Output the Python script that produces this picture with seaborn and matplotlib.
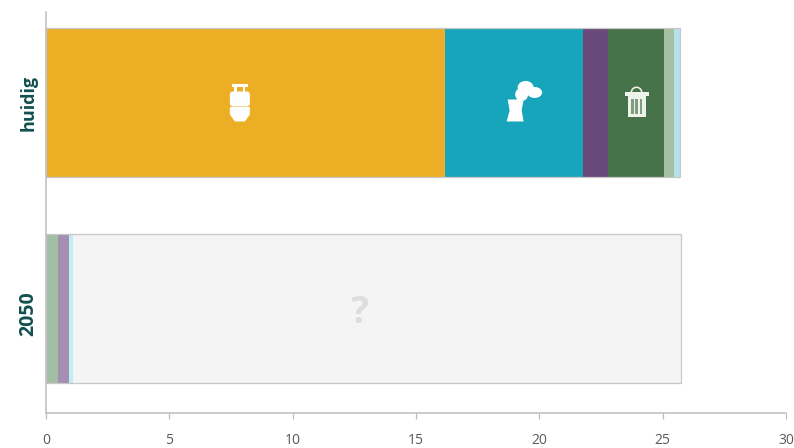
import numpy as np
import matplotlib
matplotlib.use('Agg')
import matplotlib.pyplot as plt
import seaborn as sns
from matplotlib.patches import Circle, Ellipse, FancyBboxPatch, Polygon, Rectangle, Wedge
from matplotlib.transforms import Affine2D

categories = ['huidig', '2050']
huidig_values = [16.17, 5.6, 1.01, 2.27, 0.41, 0.24]
huidig_colors = ['#EBAE25', '#17A5BC', '#69487A', '#47734B', '#A5BFA0', '#B4E3EA']
future_values = [0.5, 0.45, 0.14, 24.66]
future_colors = ['#A3BFA3', '#A58FB0', '#BDF0F4', '#F4F4F4']
x_ticks = [0, 5, 10, 15, 20, 25, 30]

sns.set_style('white')
plt.rcParams['font.family'] = ['Open Sans', 'DejaVu Sans']

fig = plt.figure(figsize=(7.94, 4.48), dpi=100)
ax = fig.add_axes([46 / 794, 1 - 413 / 448, 740 / 794, 401 / 448])


# stacked bars: longest cumulative bar first, shorter ones painted on top
def stacked(cat, values, colors):
    totals = np.cumsum(values)
    for i in range(len(values) - 1, -1, -1):
        sns.barplot(x=[totals[i]], y=[cat], order=categories, color=colors[i], saturation=1,
                    width=0.725, linewidth=0, ax=ax)
    # thin outline round the whole bar
    sns.barplot(x=[totals[-1]], y=[cat], order=categories, fill=False, edgecolor='#C8C8C8',
                width=0.725, linewidth=0.9, ax=ax)


stacked('huidig', huidig_values, huidig_colors)
stacked('2050', future_values, future_colors)

ax.set_xlim(0, 30)
ax.set_ylim(1.51, -0.44)
ax.set_xticks(x_ticks)
ax.set_yticks([])
ax.set_xlabel('')
ax.set_ylabel('')
sns.despine(ax=ax)
for s in ['left', 'bottom']:
    ax.spines[s].set_color('#BDBDBD')
    ax.spines[s].set_linewidth(1.1)
ax.tick_params(axis='x', length=4, width=0.9, color='#BDBDBD', pad=10.5, labelsize=10, labelcolor='#595959', bottom=True)

# category labels sit a bit off the bar centres in the original
ax.text(-0.72, 0.0, categories[0], rotation=90, ha='center', va='center', fontsize=13,
        fontweight='bold', color='#12504F', clip_on=False)
ax.text(-0.72, 1.025, categories[1], rotation=90, ha='center', va='center', fontsize=14,
        fontweight='bold', color='#12504F', clip_on=False)


# icons are drawn in pixels round an anchor given in data units
def anchor(x, y):
    px, py = ax.transData.transform((x, y))
    return Affine2D().scale(1, -1).translate(px, py)


def bottle(x, y):
    t = anchor(x, y)
    shapes = [
        Rectangle((-8, -18), 16, 2.5),
        Rectangle((-5.5, -16), 2.5, 7),
        Rectangle((3, -16), 2.5, 7),
        FancyBboxPatch((-7, -8), 14, 9, boxstyle='round,pad=3'),
        Polygon([(-10, 4.5), (10, 4.5), (10, 12), (5, 19), (-5, 19), (-10, 12)]),
    ]
    for s in shapes:
        s.set(facecolor='white', edgecolor='none', transform=t)
        ax.add_patch(s)


def plant(x, y):
    t = anchor(x, y)
    shapes = [
        Polygon([(-9, -3), (7, -3), (5, 8), (7, 19), (-10, 19), (-7, 8)]),
        Ellipse((9, -15), 16, 13),
        Circle((5, -8), 6.5),
        Ellipse((18, -10), 15, 11),
    ]
    for s in shapes:
        s.set(facecolor='white', edgecolor='none', transform=t)
        ax.add_patch(s)


def trash(x, y):
    t = anchor(x, y)
    shapes = [
        (Wedge((0, -10), 6, 180, 360, width=1.6), '#EEF3EC'),
        (Rectangle((-12, -10.5), 24, 4), '#EEF3EC'),
        (Rectangle((-9, -6), 18, 21), '#EEF3EC'),
        (Rectangle((-5.5, -3), 2.5, 15), '#7F9E80'),
        (Rectangle((-1.25, -3), 2.5, 15), '#7F9E80'),
        (Rectangle((3, -3), 2.5, 15), '#7F9E80'),
    ]
    for s, c in shapes:
        s.set(facecolor=c, edgecolor='none', transform=t)
        ax.add_patch(s)


bottle(7.86, 0.0)
plant(19.08, 0.0)
trash(23.94, 0.0)
ax.text(12.72, 1.025, '?', color='#DDDDDD', fontsize=27, fontweight='bold', ha='center', va='center')

fig.savefig('out.png', dpi=100)
